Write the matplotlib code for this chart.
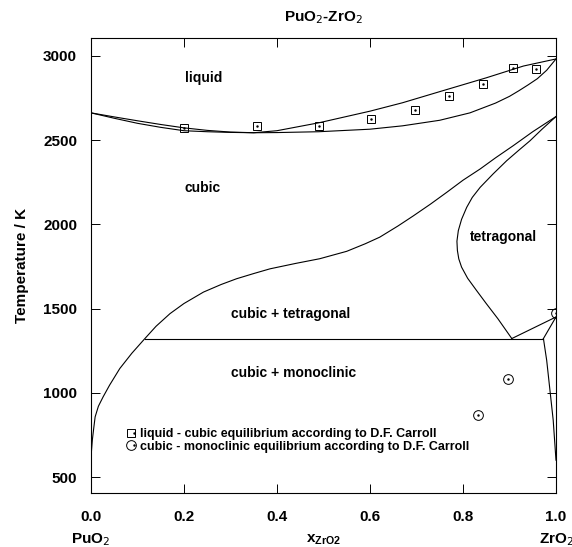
import matplotlib
matplotlib.use("Agg")
import matplotlib.pyplot as plt
from matplotlib.legend_handler import HandlerTuple

plt.rcParams['font.family'] = ['Liberation Sans', 'DejaVu Sans']

# liquidus / solidus
liq_x = [0.0, 0.05, 0.1, 0.15, 0.2, 0.25, 0.3, 0.35, 0.4, 0.49, 0.6, 0.67, 0.75, 0.85, 0.93, 1.0]
liq_T = [2662, 2638, 2615, 2593, 2573, 2558, 2548, 2544, 2556, 2603, 2672, 2722, 2788, 2870, 2940, 2982]
sol_x = [0.0, 0.05, 0.1, 0.15, 0.2, 0.25, 0.3, 0.35, 0.4, 0.49, 0.6, 0.67, 0.75, 0.815,
         0.87, 0.9, 0.92, 0.94, 0.96, 0.98, 1.0]
sol_T = [2662, 2630, 2600, 2576, 2556, 2550, 2546, 2544, 2545, 2550, 2565, 2585, 2618, 2662,
         2720, 2760, 2793, 2828, 2865, 2915, 2982]

# cubic phase boundary
cub_x = [0.0, 0.001, 0.003, 0.006, 0.009, 0.016, 0.026, 0.04, 0.062, 0.088, 0.116, 0.14,
         0.17, 0.2, 0.242, 0.28, 0.313, 0.35, 0.385, 0.44, 0.492, 0.55, 0.59, 0.621,
         0.66, 0.693, 0.73, 0.765, 0.8, 0.837, 0.87, 0.908, 0.95, 1.0]
cub_T = [580, 650, 720, 790, 857, 920, 975, 1045, 1144, 1235, 1322, 1395,
         1470, 1530, 1598, 1643, 1677, 1708, 1736, 1768, 1796, 1840, 1885, 1924,
         1990, 2050, 2120, 2190, 2262, 2329, 2395, 2467, 2550, 2640]

# tetragonal phase boundary
tet_x = [1.0, 0.97, 0.944, 0.92, 0.894, 0.865, 0.837, 0.82, 0.808, 0.797, 0.79, 0.787,
         0.788, 0.791, 0.797, 0.81, 0.829, 0.85, 0.875, 0.905]
tet_T = [2640, 2565, 2496, 2440, 2378, 2300, 2220, 2160, 2101, 2030, 1963, 1900,
         1845, 1795, 1746, 1680, 1608, 1530, 1440, 1322]

# eutectoid and ZrO2-rich side
eut_x = [0.116, 0.973]
eut_T = [1322, 1322]
tm1_x = [0.905, 1.0]
tm1_T = [1322, 1450]
tm2_x = [0.973, 1.0]
tm2_T = [1322, 1450]
mon_x = [0.973, 0.980, 0.994, 1.0]
mon_T = [1322, 1193, 838, 600]

# D.F. Carroll data
sq_x = [0.201, 0.358, 0.491, 0.602, 0.697, 0.770, 0.844, 0.907, 0.957]
sq_T = [2572, 2585, 2585, 2623, 2678, 2761, 2832, 2929, 2921]
ci_x = [0.897, 0.833, 1.0]
ci_T = [1079, 867, 1472]

fig = plt.figure(figsize=(5.72, 5.47), dpi=100)
ax = fig.add_axes([0.159, 0.0987, 0.813, 0.832])

lw = 0.8
for xs, ts in [(liq_x, liq_T), (sol_x, sol_T), (cub_x, cub_T), (tet_x, tet_T),
               (eut_x, eut_T), (tm1_x, tm1_T), (tm2_x, tm2_T), (mon_x, mon_T)]:
    ax.plot(xs, ts, color='black', lw=lw)

sq, = ax.plot(sq_x, sq_T, 's', ms=6, mfc='none', mec='black', mew=0.7, ls='none')
sqd, = ax.plot(sq_x, sq_T, '.', ms=1.5, color='black', ls='none')
ci, = ax.plot(ci_x, ci_T, 'o', ms=7, mfc='none', mec='black', mew=0.7, ls='none')
cid, = ax.plot(ci_x, ci_T, '.', ms=1.5, color='black', ls='none')

fs = 10
ax.text(0.202, 2870, 'liquid', fontsize=fs, fontweight='bold', va='center')
ax.text(0.202, 2218, 'cubic', fontsize=fs, fontweight='bold', va='center')
ax.text(0.888, 1922, 'tetragonal', fontsize=fs, fontweight='bold', va='center', ha='center')
ax.text(0.301, 1466, 'cubic + tetragonal', fontsize=fs, fontweight='bold', va='center')
ax.text(0.301, 1118, 'cubic + monoclinic', fontsize=fs, fontweight='bold', va='center')

leg = ax.legend([(sq, sqd), (ci, cid)],
                ['liquid - cubic equilibrium according to D.F. Carroll',
                 'cubic - monoclinic equilibrium according to D.F. Carroll'],
                handler_map={tuple: HandlerTuple(ndivide=None)},
                loc='lower left', bbox_to_anchor=(0.07, 0.075), frameon=False,
                handlelength=0.5, handletextpad=0.3, labelspacing=0.05,
                borderpad=0, prop={'size': 9, 'weight': 'bold'})

ax.set_xlim(0, 1)
ax.set_ylim(405, 3107)
ax.set_xticks([0.0, 0.2, 0.4, 0.6, 0.8, 1.0])
ax.set_xticklabels(['0.0', '0.2', '0.4', '0.6', '0.8', '1.0'])
ax.set_yticks([500, 1000, 1500, 2000, 2500, 3000])
ax.tick_params(direction='in', top=True, right=True, length=6.5, width=0.7,
               labelsize=11, pad=10)
ax.tick_params(axis='x', pad=12)
for lab in ax.get_xticklabels() + ax.get_yticklabels():
    lab.set_fontweight('bold')
for s in ax.spines.values():
    s.set_linewidth(0.8)

ax.set_ylabel('Temperature / K', fontsize=11, fontweight='bold', labelpad=10)
ax.set_title('PuO$_2$-ZrO$_2$', fontsize=11, fontweight='bold', pad=12)
ax.text(0.0, -0.103, 'PuO$_2$', transform=ax.transAxes, fontsize=11,
        fontweight='bold', ha='center', va='center')
ax.text(1.0, -0.103, 'ZrO$_2$', transform=ax.transAxes, fontsize=11,
        fontweight='bold', ha='center', va='center')
ax.text(0.5, -0.103, 'x$_{\\mathregular{ZrO2}}$', transform=ax.transAxes, fontsize=11,
        fontweight='bold', ha='center', va='center')

fig.savefig('out.png', dpi=100)
